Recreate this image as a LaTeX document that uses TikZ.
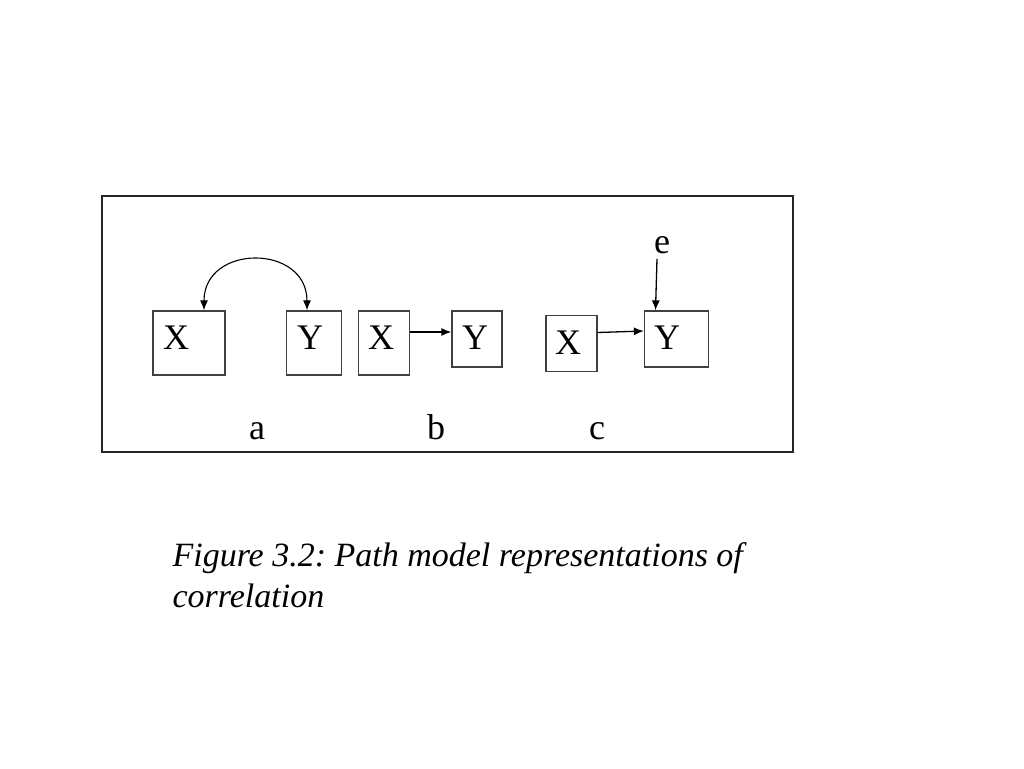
\documentclass[tikz,border=0pt]{standalone}
\usepackage{fontspec}
\setmainfont{Liberation Serif}
\usetikzlibrary{arrows.meta}
\frenchspacing

\begin{document}
\begin{tikzpicture}[
    x=1pt, y=-1pt,
    >={Latex[length=10pt, width=8pt]},
    every node/.style={font=\fontsize{36}{40}\selectfont},
    var/.style={draw=black!75, line width=1.3pt, inner sep=0pt},
    path/.style={->, line width=1.3pt},
  ]
  \useasboundingbox (0,0) rectangle (1024,768);
  \draw[line width=1.5pt, black!85] (102,196) rectangle (793,452);
  % a: correlation as a two-headed arc
  \node[var, minimum width=72, minimum height=64] (Xa) at (189,343) {};
  \node (Xa text) at (176,338) {X};
  \node[var, minimum width=55, minimum height=64] (Ya) at (314,343) {};
  \node (Ya text) at (310,338) {Y};
  \draw[<->, line width=1.1pt]
    ([xshift=15]Xa.north) to[out=90, in=90, looseness=1.66] ([xshift=-7]Ya.north)
  ;
  \node[anchor=base] (a) at (257,439) {a};
  % b: X causes Y
  \node[var, minimum width=51, minimum height=64] (Xb) at (384,343) {};
  \node (Xb text) at (381,338) {X};
  \node[var, minimum width=50, minimum height=56] (Yb) at (477,339) {};
  \node (Yb text) at (475,338) {Y};
  \draw[path] ([yshift=11]Xb.east) -- ([yshift=7]Yb.west);
  \node[anchor=base] (b) at (436,439) {b};
  % c: X causes Y with error term
  \node[var, minimum width=51, minimum height=56] (Xc) at (571.5,343.5) {};
  \node (Xc text) at (568,343) {X};
  \node[var, minimum width=64, minimum height=56] (Yc) at (676.5,339) {};
  \node (Yc text) at (667,338) {Y};
  \node[anchor=base] (e) at (662,253) {e};
  \draw[path] ([yshift=11]Xc.east) -- ([yshift=8]Yc.west);
  \draw[path] ([xshift=-5, yshift=-2]e.south) -- ([xshift=-21]Yc.north);
  \node[anchor=base] (c) at (597,439) {c};
  \node[anchor=base west, align=left, font=\fontsize{34}{41}\selectfont\itshape]
    (caption) at (169,607)
    {Figure 3.2: Path model representations of\\correlation};
\end{tikzpicture}
\end{document}
